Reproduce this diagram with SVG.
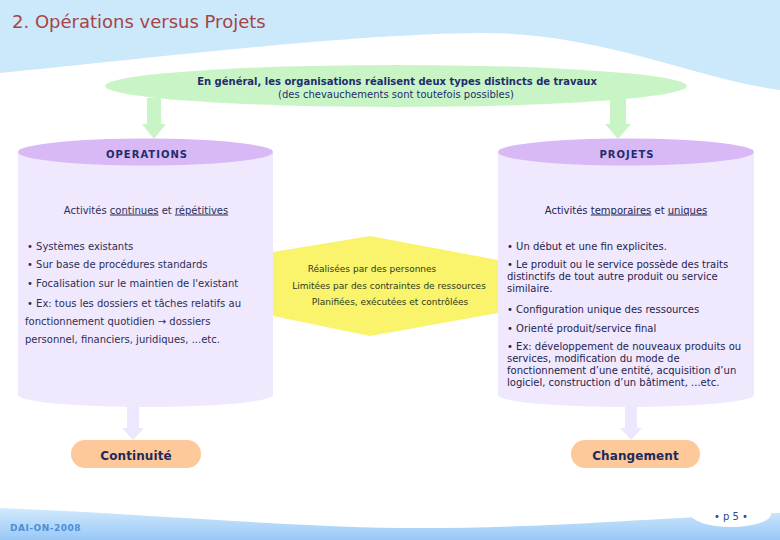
<svg xmlns="http://www.w3.org/2000/svg" width="780" height="540" viewBox="0 0 780 540">
<defs>
<linearGradient id="band" x1="0" y1="0" x2="0" y2="1">
<stop offset="0" stop-color="#d2e9fd"/>
<stop offset="1" stop-color="#98c8f6"/>
</linearGradient>
<style>
text{font-family:"DejaVu Sans","Liberation Sans",sans-serif;}
.t{font-size:10px;fill:#2b2f55;}
.r{font-size:10px;fill:#1f2550;}
.h{font-size:10px;font-weight:bold;fill:#1f2d6b;letter-spacing:1px;text-anchor:middle;}
.pill{fill:#fdc99a;}
.pt{font-size:12px;font-weight:bold;fill:#1e2a5a;letter-spacing:0.1px;text-anchor:middle;}
.cylbody{fill:#f0e8fd;}
.cyltop{fill:#d8b8f5;}
.hx{font-size:9px;fill:#2c3a22;text-anchor:middle;}
.ga{fill:#c9f5c6;}
.la{fill:#eee6fc;}
</style>
</defs>
<rect width="780" height="540" fill="#ffffff"/>
<g id="header">
<path d="M0,0 H780 V90 C700,80 600,32 480,33 C350,34 150,58 0,73 Z" fill="#cce8fb"/>
<text x="12" y="28" font-size="18" fill="#a64545">2. Opérations versus Projets</text>
</g>
<g id="connectors">
<polygon class="ga" points="147,98 161,98 161,124 166,124 154,139 142,124 147,124"/>
<polygon class="ga" points="610,98 626,98 626,124 631,124 618,139 605,124 610,124"/>
<polygon class="la" points="127,400 139,400 139,428 144,428 133,440 122,428 127,428"/>
<polygon class="la" points="625,400 637,400 637,428 642,428 631,440 620,428 625,428"/>
</g>
<g id="node-source">
<ellipse cx="396" cy="86" rx="291" ry="21" fill="#c9f5c6"/>
<text x="397" y="85" font-size="10" font-weight="bold" fill="#1f2d6b" text-anchor="middle">En général, les organisations réalisent deux types distincts de travaux</text>
<text x="396" y="97.5" font-size="10" fill="#1f2d6b" text-anchor="middle">(des chevauchements sont toutefois possibles)</text>
</g>
<g id="node-operations">
<rect class="cylbody" x="18" y="152" width="255" height="243"/>
<ellipse class="cylbody" cx="145.5" cy="395" rx="127.5" ry="12"/>
<ellipse class="cyltop" cx="145.5" cy="152" rx="127.5" ry="13.5"/>
<text class="h" x="147" y="158">OPERATIONS</text>
<text class="t" x="146" y="213.5" text-anchor="middle">Activités <tspan text-decoration="underline">continues</tspan> et <tspan text-decoration="underline">répétitives</tspan></text>
<text class="t" x="27" y="249.5">• Systèmes existants</text>
<text class="t" x="27" y="267.5">• Sur base de  procédures standards</text>
<text class="t" x="27" y="286.5">• Focalisation sur le maintien de l'existant</text>
<text class="t" x="27" y="307">• Ex: tous les dossiers et tâches relatifs au</text>
<text class="t" x="25" y="324.5">fonctionnement quotidien → dossiers</text>
<text class="t" x="25" y="342.5">personnel, financiers, juridiques, ...etc.</text>
</g>
<g id="node-projets">
<rect class="cylbody" x="498" y="152" width="256" height="243"/>
<ellipse class="cylbody" cx="626" cy="395" rx="128" ry="12"/>
<ellipse class="cyltop" cx="626" cy="152" rx="128" ry="13.5"/>
<text class="h" x="627" y="158">PROJETS</text>
<text class="r" x="626" y="213.5" text-anchor="middle">Activités <tspan text-decoration="underline">temporaires</tspan> et <tspan text-decoration="underline">uniques</tspan></text>
<text class="r" x="507" y="249.5">• Un début et une fin explicites.</text>
<text class="r" x="507" y="267.5">• Le produit ou le service possède des traits</text>
<text class="r" x="507" y="279.5">distinctifs de tout autre produit ou service</text>
<text class="r" x="507" y="291.5">similaire.</text>
<text class="r" x="507" y="312.5">• Configuration unique des ressources</text>
<text class="r" x="507" y="331.5">• Orienté produit/service final</text>
<text class="r" x="507" y="349.5">• Ex:  développement de nouveaux produits ou</text>
<text class="r" x="507" y="361.5">services, modification du mode de</text>
<text class="r" x="507" y="373.5">fonctionnement d’une entité, acquisition d’un</text>
<text class="r" x="507" y="385.5">logiciel, construction d’un bâtiment, ...etc.</text>
</g>
<g id="node-common">
<polygon points="273,252 370,236 498,260 498,313 370,336 273,316" fill="#faf36c"/>
<text class="hx" x="372" y="272">Réalisées par des personnes</text>
<text class="hx" x="389" y="289">Limitées par des contraintes de ressources</text>
<text class="hx" x="390" y="305">Planifiées, exécutées et contrôlées</text>
</g>
<g id="node-continuite">
<rect class="pill" x="71" y="440" width="130" height="28" rx="14"/>
<text class="pt" x="136" y="459.5">Continuité</text>
</g>
<g id="node-changement">
<rect class="pill" x="571" y="440" width="129" height="28" rx="14"/>
<text class="pt" x="635.5" y="459.5">Changement</text>
</g>
<g id="footer">
<path d="M0,508 C150,514 300,528 420,528 C550,528 650,518 780,513 V540 H0 Z" fill="url(#band)"/>
<ellipse cx="731" cy="514" rx="40" ry="13" fill="#ffffff"/>
<text x="10" y="531" font-size="9" font-weight="bold" fill="#4a8fd6" letter-spacing="0.5">DAI-ON-2008</text>
<text x="731" y="520" font-size="10" fill="#2a4a8a" text-anchor="middle">• p 5 •</text>
</g>
</svg>
